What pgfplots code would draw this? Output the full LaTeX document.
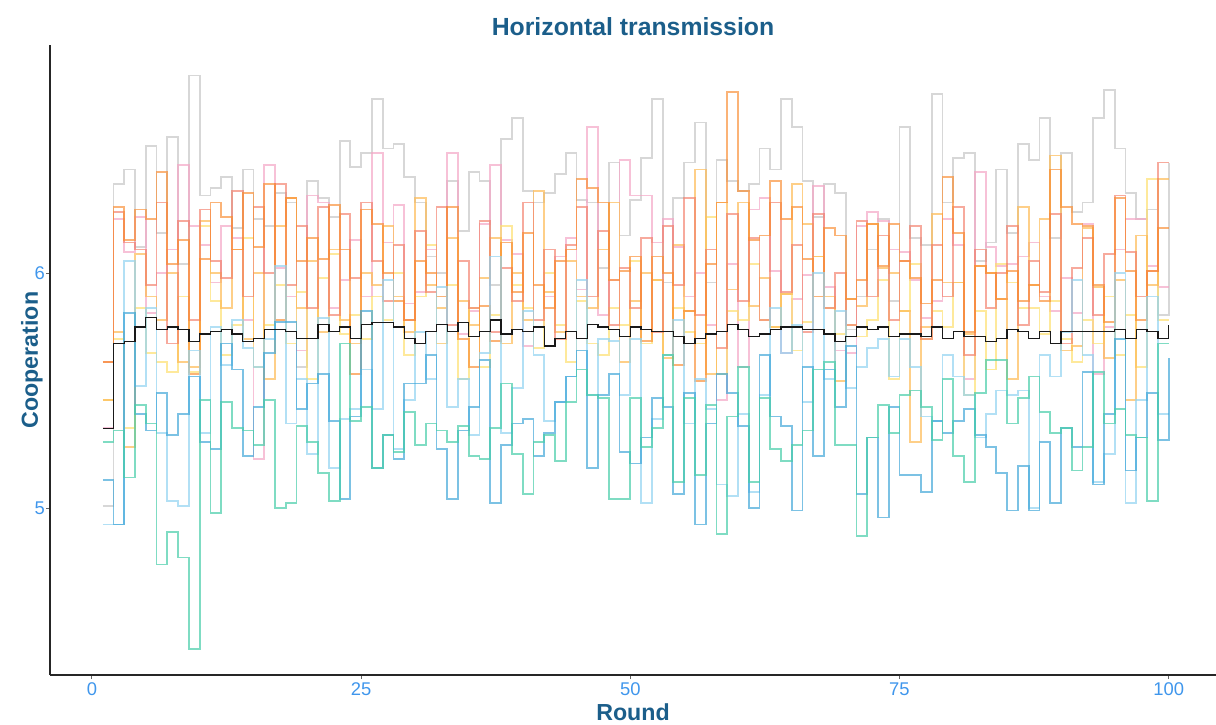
\documentclass[border=0pt]{standalone}
\usepackage{pgfplots}
\usepackage{pgfplotstable}
\pgfplotsset{compat=1.18}
\usepackage{fontspec}
\setmainfont{Liberation Sans}
\definecolor{titleblue}{HTML}{1B5E8A}
\definecolor{tickblue}{HTML}{3F96EC}
\definecolor{cgrey}{HTML}{C9C9C9}
\definecolor{cpink}{HTML}{F4A6C6}
\definecolor{corange}{HTML}{F98B2E}
\definecolor{csalmon}{HTML}{F27D68}
\definecolor{clorange}{HTML}{FDBB55}
\definecolor{cyellow}{HTML}{FDDF70}
\definecolor{clblue}{HTML}{92D3F1}
\definecolor{cblue}{HTML}{35A2D6}
\definecolor{cgreen}{HTML}{48CDAA}

\pgfplotstableread{
r grey pink orange salmon lorange yellow lblue blue green black
1 5.01 5.34 5.62 5.62 5.46 5.46 4.93 5.12 5.28 5.34
2 6.38 6.23 6.28 6.26 5.75 5.72 4.93 4.93 5.33 5.70
3 6.44 6.09 6.14 6.13 5.26 5.34 6.05 5.83 5.13 5.71
4 6.11 6.24 6.27 6.10 6.08 5.85 5.52 5.40 5.44 5.77
5 6.54 5.83 6.23 5.95 5.90 5.66 5.85 5.33 5.36 5.81
6 6.17 6.00 6.43 6.30 5.80 5.62 5.32 5.49 4.76 5.76
7 6.58 6.10 6.04 5.70 6.00 5.58 5.03 5.31 4.90 5.77
8 6.04 6.46 6.14 6.22 5.62 5.90 5.01 5.40 4.79 5.76
9 6.84 6.20 5.57 5.80 5.60 5.58 5.67 5.56 4.40 5.71
10 6.33 6.12 6.06 6.27 6.22 6.20 5.32 5.28 5.46 5.74
11 6.36 5.96 6.30 6.05 6.00 5.88 5.77 5.25 4.98 5.75
12 6.41 6.20 6.24 5.98 5.85 5.65 5.61 5.70 5.45 5.76
13 6.19 6.15 6.10 6.35 6.10 5.78 5.80 5.59 5.34 5.74
14 6.44 5.80 6.34 5.90 5.72 6.15 5.68 5.22 5.33 5.71
15 6.23 5.21 6.11 6.28 6.00 5.60 5.60 5.43 5.27 5.72
16 6.20 6.46 6.38 6.00 5.55 5.78 5.72 5.66 5.46 5.76
17 6.34 6.02 5.80 6.38 6.20 5.95 6.03 5.79 5.00 5.76
18 6.30 5.90 6.32 5.95 6.32 5.70 5.36 5.79 5.02 5.75
19 5.60 5.67 6.05 6.20 5.85 5.92 5.55 5.42 5.35 5.72
20 6.39 6.33 6.15 5.85 6.05 5.55 5.23 5.53 5.28 5.72
21 6.32 6.30 6.06 6.28 5.75 5.98 5.81 5.57 5.15 5.78
22 6.24 5.85 6.29 5.82 6.10 6.08 5.17 5.37 5.03 5.75
23 6.56 5.97 6.10 6.25 5.80 5.74 5.38 5.04 5.70 5.77
24 6.45 6.14 5.57 5.98 5.70 5.82 5.42 5.39 5.37 5.72
25 6.51 5.90 6.27 6.30 6.00 5.72 5.59 5.84 5.43 5.78
26 6.74 6.51 6.21 6.05 5.95 5.90 5.42 5.17 5.17 5.79
27 6.53 6.13 6.00 5.88 6.20 5.80 5.97 5.31 5.31 5.79
28 6.55 6.29 5.88 6.12 5.90 6.00 5.25 5.21 5.24 5.77
29 6.41 5.87 5.80 5.80 5.75 5.65 5.46 5.53 5.41 5.72
30 6.30 5.92 6.05 6.18 6.32 5.90 5.75 5.53 5.27 5.70
31 6.07 6.10 6.00 5.92 5.95 6.12 5.55 5.65 5.36 5.75
32 6.00 5.70 5.90 6.28 5.85 5.70 5.94 5.25 5.33 5.78
33 6.39 6.51 6.28 5.78 6.15 5.95 5.43 5.04 5.28 5.75
34 6.18 5.74 5.72 6.05 5.88 5.55 5.55 5.33 5.35 5.79
35 6.43 5.84 5.60 5.85 5.78 5.85 5.31 5.43 5.22 5.73
36 6.39 6.21 5.86 6.22 5.98 5.60 5.66 5.63 5.21 5.75
37 5.95 6.46 5.71 5.75 6.15 5.82 6.07 5.02 5.34 5.80
38 6.57 6.14 6.13 6.02 5.70 6.20 5.32 5.27 5.53 5.74
39 6.66 6.08 5.92 5.88 6.00 5.95 5.51 5.36 5.23 5.76
40 6.35 5.69 6.17 6.30 5.80 5.85 5.84 5.38 5.06 5.75
41 6.30 5.77 5.95 5.80 6.35 5.68 5.65 5.22 5.28 5.77
42 6.34 5.90 5.85 6.10 5.92 6.00 5.37 5.32 5.31 5.69
43 6.42 6.07 6.05 5.72 5.75 5.78 5.45 5.45 5.20 5.72
44 6.51 6.15 6.10 6.12 6.05 5.62 5.56 5.56 5.45 5.75
45 6.31 5.93 6.40 6.28 5.90 5.88 5.97 5.67 5.59 5.72
46 6.30 6.62 6.36 5.90 5.85 5.70 5.48 5.17 5.48 5.78
47 6.02 5.82 6.30 6.18 6.10 5.65 5.72 5.48 5.47 5.77
48 6.47 5.97 5.97 5.78 6.30 5.85 5.71 5.57 5.04 5.76
49 6.16 6.48 6.01 6.02 5.62 5.78 5.48 5.24 5.04 5.73
50 6.31 6.33 6.07 5.85 5.88 6.05 5.72 5.19 5.47 5.77
51 6.49 6.33 5.71 6.15 6.00 5.70 5.02 5.30 5.26 5.76
52 6.74 6.13 6.07 5.75 5.97 5.97 5.38 5.47 5.34 5.75
53 5.96 6.23 6.00 6.20 5.64 5.65 5.65 5.43 5.65 5.75
54 6.32 6.11 5.61 5.95 6.12 5.85 5.80 5.06 5.11 5.73
55 6.47 5.90 5.84 6.32 5.84 5.75 5.36 5.49 5.47 5.70
56 6.64 6.00 5.54 5.82 6.44 5.70 5.55 4.93 5.14 5.72
57 5.96 5.78 6.04 6.10 5.57 6.24 5.42 5.36 5.44 5.74
58 6.48 5.46 6.30 5.68 6.30 5.57 5.10 5.57 4.89 5.75
59 6.39 6.04 6.77 6.25 5.93 5.84 5.05 5.49 5.39 5.78
60 6.35 5.60 6.35 5.88 6.30 5.80 5.40 5.35 5.60 5.76
61 6.38 6.27 6.14 6.15 5.86 6.04 5.07 5.00 5.11 5.73
62 6.53 6.32 6.16 5.80 5.98 5.80 5.48 5.65 5.47 5.74
63 6.44 6.01 6.39 6.30 5.77 5.77 5.85 5.39 5.25 5.76
64 6.74 5.66 6.23 5.92 5.91 5.91 5.66 5.35 5.20 5.77
65 6.62 5.89 6.28 6.12 6.38 5.67 5.78 4.99 5.27 5.77
66 6.39 5.99 6.06 5.75 6.21 5.79 5.45 5.60 5.33 5.76
67 6.24 6.37 5.90 6.25 6.07 6.07 6.00 5.22 5.59 5.76
68 6.38 5.94 6.19 5.85 5.90 5.85 5.55 5.59 5.62 5.74
69 6.34 5.67 6.16 6.00 5.54 5.74 5.84 5.43 5.27 5.71
70 5.76 5.66 5.89 5.78 5.89 5.78 5.51 5.69 5.27 5.73
71 5.90 6.20 5.97 6.22 5.86 5.73 5.60 5.06 4.88 5.77
72 6.10 6.26 6.21 5.90 6.21 5.80 5.68 5.30 5.30 5.76
73 6.23 6.22 6.03 6.16 6.02 5.97 5.72 4.96 5.44 5.77
74 5.88 6.10 6.21 5.80 6.00 5.55 5.56 5.43 5.32 5.73
75 6.62 6.09 6.05 6.05 5.84 5.84 5.72 5.14 5.48 5.74
76 6.15 5.97 5.98 6.20 5.28 6.04 5.60 5.14 5.50 5.74
77 6.12 5.81 5.87 5.72 5.77 5.72 5.39 5.07 5.43 5.73
78 6.76 5.88 5.97 6.12 6.25 5.84 5.37 5.37 5.29 5.77
79 6.30 6.23 6.41 5.90 5.96 5.77 5.65 5.32 5.55 5.72
80 6.49 6.12 6.17 6.28 5.96 5.96 5.56 5.37 5.22 5.75
81 6.51 5.55 5.75 5.65 5.74 5.48 5.48 5.42 5.11 5.73
82 6.05 6.43 6.03 6.10 6.03 5.84 5.30 5.31 5.49 5.73
83 6.13 6.11 6.00 5.85 6.00 5.59 5.40 5.26 5.63 5.71
84 6.44 6.03 5.89 6.00 5.89 6.04 5.50 5.15 5.63 5.72
85 6.17 6.04 6.01 6.20 5.55 5.96 5.48 4.99 5.36 5.76
86 6.55 6.07 5.88 5.78 6.28 5.85 5.50 5.18 5.47 5.75
87 6.48 6.13 5.95 6.05 5.95 5.85 5.00 4.99 5.56 5.72
88 6.66 5.90 5.88 5.92 6.23 5.74 5.65 5.28 5.41 5.75
89 6.15 5.84 6.44 6.25 6.50 5.88 5.56 5.02 5.32 5.70
90 6.51 5.98 6.28 5.70 5.67 5.72 5.75 5.34 5.34 5.75
91 6.26 5.83 6.21 6.02 5.69 5.62 5.97 5.26 5.16 5.75
92 6.30 6.21 6.20 6.15 6.19 5.80 5.65 5.58 5.26 5.75
93 6.66 5.57 5.95 5.82 5.94 5.70 5.11 5.10 5.58 5.75
94 6.78 5.77 5.79 6.08 5.64 5.90 5.23 5.40 5.36 5.75
95 6.53 6.10 6.32 6.33 5.97 5.65 6.00 5.72 5.42 5.76
96 6.34 6.23 6.01 6.09 5.46 5.82 5.02 5.16 5.31 5.72
97 6.23 6.23 5.80 5.90 6.16 5.60 5.46 5.30 5.30 5.76
98 6.27 6.03 6.01 6.01 5.95 6.40 5.90 5.49 5.03 5.75
99 5.82 5.94 6.19 6.47 6.40 5.80 5.40 5.29 5.70 5.72
100 6.47 5.94 6.19 6.47 6.40 5.80 5.40 5.64 5.70 5.78
}\data

\begin{document}
\begin{tikzpicture}
\useasboundingbox (-25pt,-24.5pt) rectangle (583pt,337.5pt);
\begin{axis}[
  scale only axis,
  width=583pt, height=315pt,
  xmin=-3.9, xmax=104.4,
  ymin=4.29, ymax=6.97,
  axis x line*=bottom, axis y line*=left,
  axis line style={black!85, line width=0.6pt},
  xtick={0,25,50,75,100}, ytick={5,6},
  tick align=outside, major tick length=2pt,
  tick style={black!60, line width=0.5pt},
  /pgf/number format/assume math mode=true,
  ticklabel style={font=\fontsize{9.2}{10}\selectfont, text=tickblue},
  xticklabel style={yshift=1.5pt},
  yticklabel style={xshift=3pt},
  title={Horizontal transmission},
  title style={font=\bfseries\fontsize{12.4}{14}\selectfont, text=titleblue, at={(axis description cs:0.5,1)}, anchor=center, yshift=3pt},
  xlabel={Round},
  ylabel={Cooperation},
  xlabel style={font=\bfseries\fontsize{11.6}{13}\selectfont, text=titleblue, at={(axis description cs:0.5,0)}, anchor=center, yshift=-18.5pt},
  ylabel style={font=\bfseries\fontsize{11.6}{13}\selectfont, text=titleblue, at={(axis description cs:-0.0155,0.5)}, anchor=center},
  every axis plot/.append style={const plot, no marks, line width=0.9pt},
  clip=false,
]
\addplot[cgrey, opacity=0.75] table[x=r, y=grey] {\data};
\addplot[cpink, opacity=0.7] table[x=r, y=pink] {\data};
\addplot[cyellow, opacity=0.7] table[x=r, y=yellow] {\data};
\addplot[clorange, opacity=0.7] table[x=r, y=lorange] {\data};
\addplot[csalmon, opacity=0.65] table[x=r, y=salmon] {\data};
\addplot[corange, opacity=0.65] table[x=r, y=orange] {\data};
\addplot[clblue, opacity=0.7] table[x=r, y=lblue] {\data};
\addplot[cblue, opacity=0.65] table[x=r, y=blue] {\data};
\addplot[cgreen, opacity=0.7] table[x=r, y=green] {\data};
\addplot[black!90, line width=0.65pt] table[x=r, y=black] {\data};
\end{axis}
\end{tikzpicture}
\end{document}
